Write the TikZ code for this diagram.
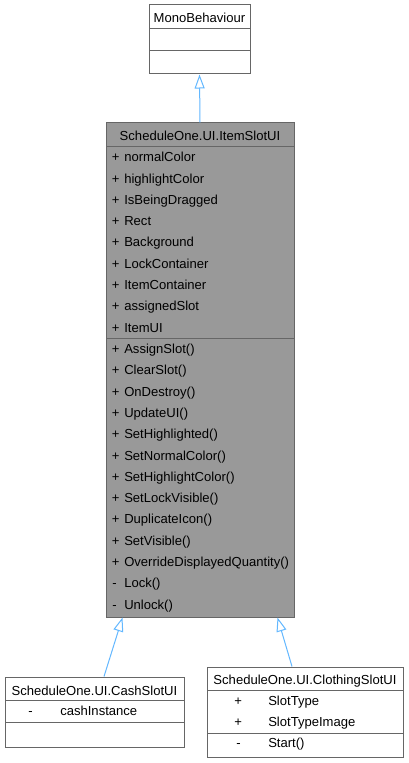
\documentclass[tikz,border=0pt]{standalone}
\usepackage{fontspec}
\setmainfont{Liberation Sans}
\usetikzlibrary{arrows.meta,fit,calc}
\definecolor{boxgray}{HTML}{666666}
\definecolor{hlgray}{HTML}{999999}
\definecolor{arrowblue}{HTML}{63B8FF}
\begin{document}
\begin{tikzpicture}[x=0.75pt,y=-0.75pt,
  box/.style={draw=boxgray, line width=0.75pt, inner sep=0pt, fill=white},
  hl/.style={box, fill=hlgray},
  txt/.style={font=\fontsize{9.8}{11}\selectfont, inner sep=0pt, anchor=base west, text=black},
  ctxt/.style={txt, anchor=base},
  sepline/.style={draw=boxgray, line width=0.75pt},
  inh/.style={draw=arrowblue, line width=0.75pt, -{Triangle[open, length=10.5pt, width=7.5pt, fill=white]}}]
\fill[white] (0,0) rectangle (409,763);
\useasboundingbox (0,0) rectangle (409,763);
% MonoBehaviour
\node[box, fit={(149,5)(250,74)}] (mono) {};
\draw[sepline] (149,29) -- (250,29);
\draw[sepline] (149,51) -- (250,51);
\node[ctxt] (monot) at (199.5,22.7) {MonoBehaviour};
% ItemSlotUI
\node[hl, fit={(106,123)(294,617)}] (item) {};
\draw[sepline] (106,147) -- (294,147);
\draw[sepline] (106,338) -- (294,338);
\node[ctxt] (itemt) at (200,141) {ScheduleOne.UI.ItemSlotUI};
\foreach \n [count=\i from 0] in {normalColor,highlightColor,IsBeingDragged,Rect,Background,LockContainer,ItemContainer,assignedSlot,ItemUI,AssignSlot(),ClearSlot(),OnDestroy(),UpdateUI(),SetHighlighted(),SetNormalColor(),SetHighlightColor(),SetLockVisible(),DuplicateIcon(),SetVisible(),OverrideDisplayedQuantity()}{
  \node[txt] (ps\i) at (111.5,161.7+21.31*\i) {+};
  \node[txt] (pn\i) at (124,161.7+21.31*\i) {\n};
}
\node[txt] (ms0) at (112,161.7+21.31*20) {-};
\node[txt] (mn0) at (124,161.7+21.31*20) {Lock()};
\node[txt] (ms1) at (112,161.7+21.31*21) {-};
\node[txt] (mn1) at (124,161.7+21.31*21) {Unlock()};
% CashSlotUI
\node[box, fit={(5,677)(184,747)}] (cash) {};
\draw[sepline] (5,700) -- (184,700);
\draw[sepline] (5,722) -- (184,722);
\node[ctxt] (casht) at (94.5,695) {ScheduleOne.UI.CashSlotUI};
\node[txt] (cs0) at (28,715) {-};
\node[txt] (cn0) at (60,715) {cashInstance};
% ClothingSlotUI
\node[box, fit={(207,667)(403,757)}] (cloth) {};
\draw[sepline] (207,690) -- (403,690);
\draw[sepline] (207,733) -- (403,733);
\node[ctxt] (clotht) at (305,684) {ScheduleOne.UI.ClothingSlotUI};
\node[txt] (ks0) at (234,705) {+};
\node[txt] (kn0) at (268,705) {SlotType};
\node[txt] (ks1) at (234,726) {+};
\node[txt] (kn1) at (268,726) {SlotTypeImage};
\node[txt] (ks2) at (236,747) {-};
\node[txt] (kn2) at (268,747) {Start()};
% inheritance
\draw[inh] (item.north) -- (mono.south);
\draw[inh] ($(cash.north)+(9.5,0)$) -- ($(item.south west)+(17,0)$);
\draw[inh] ($(cloth.north)+(-13,0)$) -- ($(item.south east)+(-17,0)$);
\end{tikzpicture}
\end{document}
